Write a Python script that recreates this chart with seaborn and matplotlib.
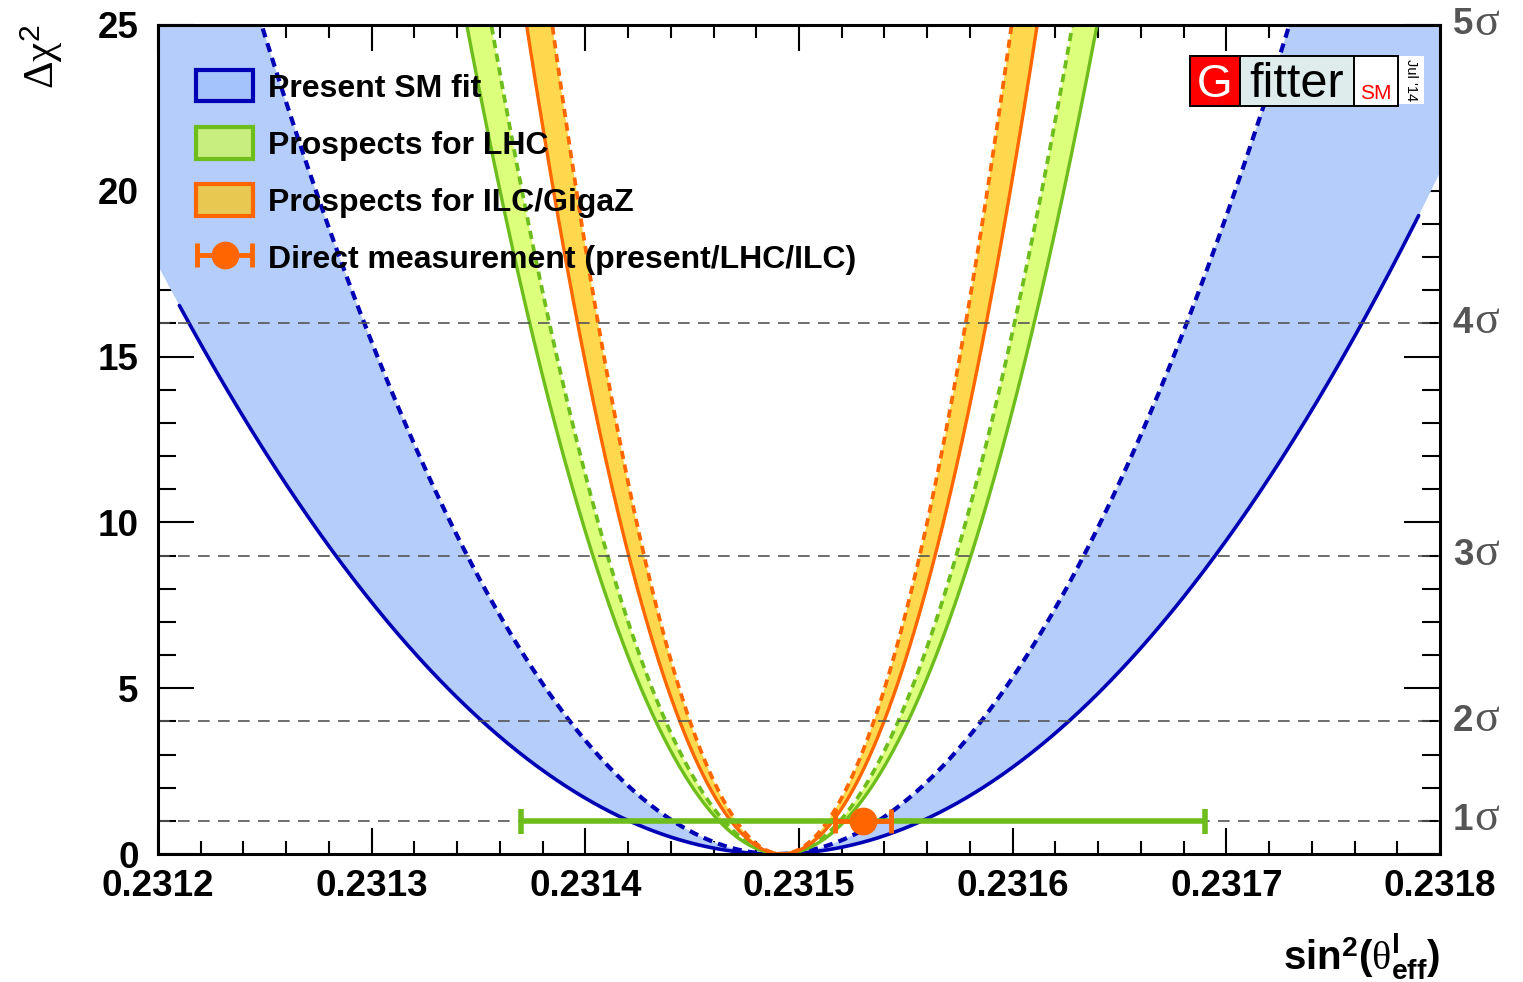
import numpy as np
import pandas as pd
import matplotlib
matplotlib.use("Agg")
import matplotlib.pyplot as plt
import seaborn as sns
from matplotlib.patches import Patch, Rectangle
from matplotlib.ticker import MultipleLocator
from matplotlib.container import ErrorbarContainer
from matplotlib.legend_handler import HandlerErrorbar

sns.set_theme(style="ticks")
plt.rcParams["font.family"] = ["Liberation Sans", "DejaVu Sans"]
plt.rcParams["mathtext.fontset"] = "custom"
plt.rcParams["mathtext.rm"] = "Liberation Serif"
plt.rcParams["mathtext.it"] = "Liberation Serif:italic"
plt.rcParams["mathtext.bf"] = "Liberation Sans:bold"
plt.rcParams["mathtext.sf"] = "Liberation Sans"
for key in ["text.color", "axes.labelcolor", "xtick.color", "ytick.color", "axes.edgecolor"]:
    plt.rcParams[key] = "black"

# ---------------------------------------------------------------- data
x_range = (0.2312, 0.2318)
y_range = (0, 25)
x_ticks = [0.2312, 0.2313, 0.2314, 0.2315, 0.2316, 0.2317, 0.2318]
x_tick_labels = ["0.2312", "0.2313", "0.2314", "0.2315", "0.2316", "0.2317", "0.2318"]
y_ticks = [0, 5, 10, 15, 20, 25]

sigma_levels = [1, 4, 9, 16, 25]
sigma_labels = ["1", "2", "3", "4", "5"]
guide_levels = [1, 4, 9, 16]

# Delta chi^2 profiles: minimum position and 1-sigma half width of each band edge
band_names = ["Present SM fit", "Prospects for LHC", "Prospects for ILC/GigaZ"]
band_centre = [0.231489, 0.231492, 0.231492]
band_width_solid = [0.0000686, 0.0000295, 0.0000239]
band_width_dashed = [0.0000481, 0.0000272, 0.0000215]
sm_solid_scan = (0.23121, 0.23179)

# direct measurement of sin^2(theta_eff^l) with LHC and ILC uncertainties
meas_value = 0.23153
meas_err_lhc = 0.00016
meas_err_ilc = 0.000013

# ---------------------------------------------------------------- style
line_colors = ["#0000b4", "#6dbd1c", "#ff6600"]
fill_colors = ["#b4cdfa", "#dcff7c", "#ffd84e"]
legend_fill = ["#a4c2fb", "#c9ee80", "#e8c850"]
grey = "#555555"

W, H = 1523, 982
fig = plt.figure(figsize=(W / 100, H / 100), dpi=100)
ax = fig.add_axes([158 / W, 1 - 854 / H, (1440 - 158) / W, (854 - 25) / H])


def profile(x, centre, width):
    return ((x - centre) / width) ** 2


xs = np.linspace(x_range[0], x_range[1], 2401)

for i, name in enumerate(band_names):
    solid = profile(xs, band_centre[i], band_width_solid[i])
    dashed = profile(xs, band_centre[i], band_width_dashed[i])
    ax.fill_between(xs, solid, dashed, color=fill_colors[i], lw=0, zorder=1 + i)
    if i == 0:
        keep = (xs >= sm_solid_scan[0]) & (xs <= sm_solid_scan[1])
        df_solid = pd.DataFrame({"x": xs[keep], "y": solid[keep]})
        lw_solid, lw_dash = 2.6, 3.0
    else:
        df_solid = pd.DataFrame({"x": xs, "y": solid})
        lw_solid, lw_dash = 2.4, 2.7
    df_dash = pd.DataFrame({"x": xs, "y": dashed})
    sns.lineplot(data=df_solid, x="x", y="y", ax=ax, color=line_colors[i], lw=lw_solid,
                 estimator=None, sort=False, zorder=1.5 + i)
    sns.lineplot(data=df_dash, x="x", y="y", ax=ax, color=line_colors[i], lw=lw_dash,
                 linestyle=(0, (2.2, 1.5)), estimator=None, sort=False, zorder=1.5 + i)

for lvl in guide_levels:
    ax.axhline(lvl, color=grey, lw=1.2, ls=(0, (7, 5)), zorder=5)

ax.errorbar([meas_value], [1], xerr=[meas_err_lhc], fmt="none", ecolor=line_colors[1],
            elinewidth=4, capsize=9, capthick=4, zorder=6)
meas_handle = ax.errorbar([meas_value], [1], xerr=[meas_err_ilc], fmt="o",
                          color=line_colors[2], ms=19, elinewidth=3.5, capsize=8.5,
                          capthick=3.5, zorder=7)

# ---------------------------------------------------------------- axes
ax.set_xlim(*x_range)
ax.set_ylim(*y_range)
ax.set_xlabel("")
ax.set_ylabel("")
ax.set_xticks(x_ticks)
ax.set_xticklabels(x_tick_labels)
ax.set_yticks(y_ticks)
ax.xaxis.set_minor_locator(MultipleLocator(0.00002))
ax.yaxis.set_minor_locator(MultipleLocator(1))
ax.tick_params(axis="both", which="both", direction="in", top=True, right=True,
               colors="black", width=1.5)
ax.tick_params(axis="x", which="major", length=19, pad=11, labelsize=26.5)
ax.tick_params(axis="x", which="minor", length=9.5)
ax.tick_params(axis="y", which="major", length=26, pad=14, labelsize=26.5)
ax.tick_params(axis="y", which="minor", length=13)
for lab in ax.get_xticklabels() + ax.get_yticklabels():
    lab.set_fontweight("bold")
for sp in ax.spines.values():
    sp.set_linewidth(2.2)
    sp.set_color("black")
    sp.set_zorder(10)
ax.set_facecolor("white")

# significance labels on the right-hand side
for lvl, lab in zip(sigma_levels, sigma_labels):
    num = ax.text(1.0101, lvl, lab, transform=ax.get_yaxis_transform(), ha="left",
                  va="center", fontsize=26.5, fontweight="bold", color=grey, clip_on=False)
    ax.annotate("σ", xy=(1, 0), xycoords=num, xytext=(0.5, -1.5), textcoords="offset points",
                ha="left", va="bottom", fontsize=33, family="Liberation Serif", color=grey,
                annotation_clip=False)

fig.text(1440 / W, 1 - 970 / H,
         r"$\mathbf{sin}^{\mathbf{2}}\mathbf{(}\mathrm{\theta}^{\mathbf{l}}_{\mathbf{eff}}\mathbf{)}$",
         ha="right", va="baseline", fontsize=29)
fig.text(42 / W, 1 - 57 / H, r"$\mathrm{\Delta\chi}^{\mathsf{2}}$", rotation=90,
         ha="center", va="center", fontsize=31)

# ---------------------------------------------------------------- legend
handles = [Patch(facecolor=legend_fill[i], edgecolor=line_colors[i], lw=3) for i in range(3)]
handles.append(meas_handle)
labels = band_names + ["Direct measurement (present/LHC/ILC)"]
ax.legend(handles, labels, loc="upper left", bbox_to_anchor=(196 / W, 1 - 70 / H),
          bbox_transform=fig.transFigure, frameon=False,
          prop={"weight": "bold", "size": 23}, handlelength=1.8, handleheight=1.14,
          handletextpad=0.45, labelspacing=0.74, borderpad=0, borderaxespad=0,
          handler_map={ErrorbarContainer: HandlerErrorbar(xerr_size=0.86)})

# ---------------------------------------------------------------- Gfitter logo
def fig_rect(x0, y0, x1, y1, fc, ec="black", lw=1.4):
    fig.add_artist(Rectangle((x0 / W, 1 - y1 / H), (x1 - x0) / W, (y1 - y0) / H,
                             transform=fig.transFigure, facecolor=fc, edgecolor=ec,
                             lw=lw, zorder=20))


fig_rect(1398, 56, 1424, 104, "white", ec="none", lw=0)
fig_rect(1190, 56, 1240, 106, "#ff0000")
fig_rect(1240, 56, 1354, 106, "#deecec")
fig_rect(1354, 56, 1398, 106, "white")
fig.text(1215 / W, 1 - 97 / H, "G", color="white", fontsize=33, ha="center",
         va="baseline", zorder=21)
fig.text(1297 / W, 1 - 97 / H, "fitter", color="black", fontsize=35, ha="center",
         va="baseline", zorder=21)
fig.text(1376 / W, 1 - 99 / H, "SM", color="#ff0000", fontsize=15, ha="center",
         va="baseline", zorder=21)
fig.text(1411 / W, 1 - 80 / H, "Jul '14", color="black", fontsize=10.5, rotation=270,
         ha="center", va="center", zorder=21)

fig.savefig("out.png", dpi=100, facecolor="white")
